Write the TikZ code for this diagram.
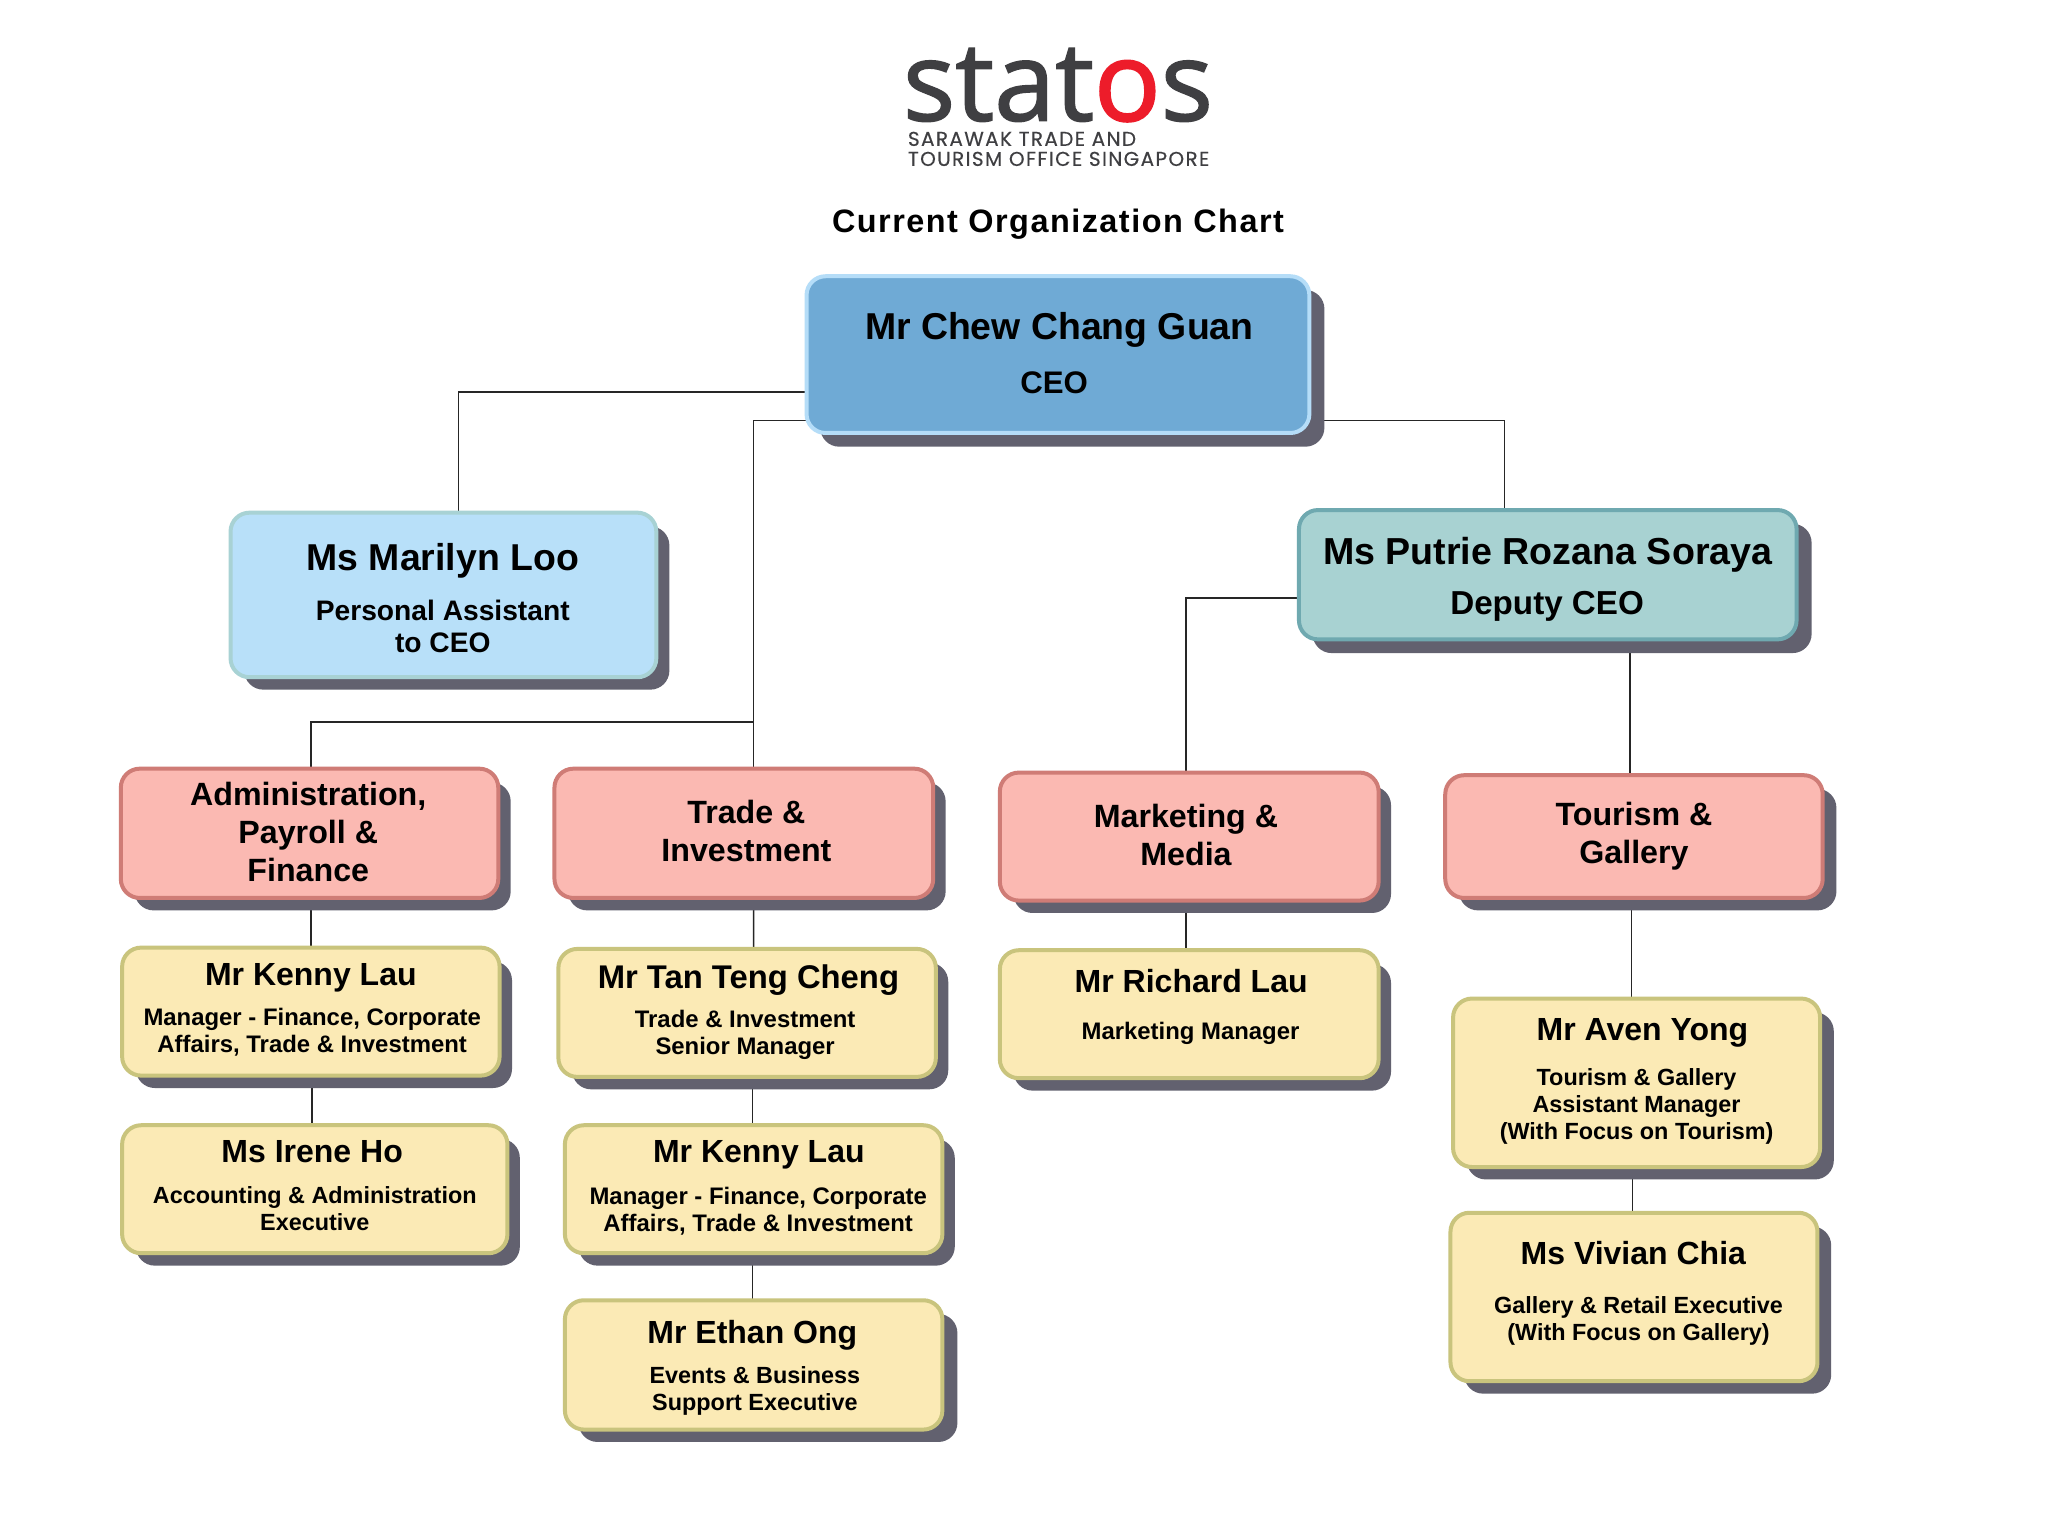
\documentclass[tikz,border=0pt]{standalone}
\usepackage{fontspec}
\setmainfont{Liberation Sans}
\newfontfamily\logofont[FakeBold=1.4]{Open Sans}
\newfontfamily\logoring[FakeBold=2]{Open Sans}
\newfontfamily\logosub[LetterSpace=6.8,FakeBold=0.4]{Poppins}
\newfontfamily\headfont[LetterSpace=4.6,BoldFont={Liberation Sans Bold}]{Liberation Sans}
\usetikzlibrary{calc,backgrounds}
\def\U{0.65306pt}
\definecolor{shadowc}{HTML}{62616F}
\definecolor{ceoF}{HTML}{6FAAD5}\definecolor{ceoB}{HTML}{B5DDF8}
\definecolor{paF}{HTML}{B8E0F9}\definecolor{paB}{HTML}{A8D2D4}
\definecolor{depF}{HTML}{A8D2D2}\definecolor{depB}{HTML}{6FA9B0}
\definecolor{pinkF}{HTML}{FBB9B2}\definecolor{pinkB}{HTML}{CF7C76}
\definecolor{yelF}{HTML}{FBEAB5}\definecolor{yelB}{HTML}{C9C47D}
\definecolor{logoG}{HTML}{3F3F42}\definecolor{logoR}{HTML}{ED1C2A}
\tikzset{
  orgbox/.style={rectangle,rounded corners=9.5pt,line width=2pt,outer sep=0pt,inner sep=0pt},
  ceobox/.style={orgbox,draw=ceoB,fill=ceoF},
  pabox/.style={orgbox,draw=paB,fill=paF},
  depbox/.style={orgbox,draw=depB,fill=depF},
  pinkbox/.style={orgbox,draw=pinkB,fill=pinkF},
  yelbox/.style={orgbox,draw=yelB,fill=yelF},
  dropfill/.style={fill=shadowc,rounded corners=9.5pt},
  link/.style={draw=black!85,line width=0.8pt},
  lab/.style={align=center,inner sep=0pt,text=black},
  topname/.style={lab,font=\bfseries\fontsize{18.7}{20}\selectfont},
  bigname/.style={lab,font=\bfseries\fontsize{18.8}{20}\selectfont},
  subrole/.style={lab,font=\bfseries\fontsize{15.6}{19}\selectfont},
  deputy/.style={lab,font=\bfseries\fontsize{16.6}{19}\selectfont},
  parole/.style={lab,font=\bfseries\fontsize{14.1}{16.3}\selectfont},
  dept/.style={lab,font=\bfseries\fontsize{16.1}{19}\selectfont},
  namelab/.style={lab,font=\bfseries\fontsize{16}{18}\selectfont},
  namewide/.style={lab,font=\bfseries\fontsize{16.4}{18}\selectfont},
  rolelab/.style={lab,font=\bfseries\fontsize{11.95}{13.5}\selectfont},
  rolesm/.style={lab,font=\bfseries\fontsize{11.7}{13.5}\selectfont},
}
% #1 name, #2-#5 left top right bottom, #6 style, #7 #8 drop offset
\newcommand\orgnode[8]{%
  \path[dropfill] (#2+11,#3+11) rectangle (#4+#7,#5+#8);
  \node[#6,minimum width={(#4-#2-1)*\U},minimum height={(#5-#3-1)*\U}] (#1) at ({(#2+#4)/2},{(#3+#5)/2}) {};
}
\begin{document}
\begin{tikzpicture}[x=\U,y=-\U]
\useasboundingbox (0,0) rectangle (1568,1176);
\begin{pgfonlayer}{background}
\fill[white] (0,0) rectangle (1568,1176);
\end{pgfonlayer}

% logo and heading
\node[inner sep=0pt,text=logoG,font=\logofont\fontsize{55}{55}\selectfont] (logo) at (810,65) {stat{\logoring\color{logoR}o}s};
\node[inner sep=0pt,align=left,text=logoG,font=\logosub\fontsize{10}{10}\selectfont] (logosubt) at (810.5,114) {SARAWAK TRADE AND\\TOURISM OFFICE SINGAPORE};
\node[lab,font=\headfont\bfseries\fontsize{16.2}{18}\selectfont] (heading) at (810,172) {Current Organization Chart};

% boxes
\orgnode{ceo}{617}{211}{1003}{332}{ceobox}{11}{10}
\orgnode{marilyn}{176}{392}{503}{519}{pabox}{9.5}{9}
\orgnode{putrie}{994}{390}{1376}{490}{depbox}{11}{10}
\orgnode{admin}{92}{588}{382}{688}{pinkbox}{9}{9}
\orgnode{trade}{424}{588}{715}{688}{pinkbox}{9}{9}
\orgnode{marketing}{765}{591}{1056}{690}{pinkbox}{9}{9}
\orgnode{tourism}{1106}{593}{1396}{688}{pinkbox}{10}{9}
\orgnode{kenny}{93}{725}{383}{824}{yelbox}{9}{9}
\orgnode{irene}{93}{861}{389}{960}{yelbox}{9}{9}
\orgnode{tan}{427}{726}{717}{825}{yelbox}{9}{9}
\orgnode{kennyb}{432}{861}{722}{960}{yelbox}{9}{9}
\orgnode{ethan}{432}{995}{722}{1095}{yelbox}{11}{9}
\orgnode{richard}{765}{727}{1056}{826}{yelbox}{9}{9}
\orgnode{aven}{1112}{764}{1394}{894}{yelbox}{10}{9}
\orgnode{vivian}{1110}{928}{1392}{1058}{yelbox}{10}{9}

% connectors
\coordinate (branch) at (577,553);
\begin{pgfonlayer}{background}
\draw[link] ($(ceo.west)+(0,28.5)$) -| ($(marilyn.north)+(11.5,0)$);
\draw[link] ($(ceo.west)+(0,50.5)$) -| ($(trade.north)+(7.5,0)$);
\draw[link] (branch) -| ($(admin.north)+(1,0)$);
\draw[link] ($(ceo.east)+(0,50.5)$) -| ($(putrie.north)+(-33,0)$);
\draw[link] ($(putrie.west)+(0,18)$) -| ($(marketing.north)+(-2.5,0)$);
\draw[link] ($(putrie.south)+(63,0)$) -- ($(tourism.north)+(-3,0)$);
\draw[link] ($(admin.south)+(1,0)$) -- (kenny.north);
\draw[link] ($(kenny.south)+(1,0)$) -- ($(irene.north)+(-2,0)$);
\draw[link] ($(trade.south)+(7.5,0)$) -- ($(tan.north)+(5,0)$);
\draw[link] ($(tan.south)+(4,0)$) -- ($(kennyb.north)+(-1,0)$);
\draw[link] ($(kennyb.south)+(-1,0)$) -- ($(ethan.north)+(-1,0)$);
\draw[link] ($(marketing.south)+(-2.5,0)$) -- ($(richard.north)+(-2.5,0)$);
\draw[link] ($(tourism.south)+(-2,0)$) -- ($(aven.north)+(-4,0)$);
\draw[link] ($(aven.south)+(-3,0)$) -- ($(vivian.north)+(-1,0)$);
\end{pgfonlayer}

% labels
\node[topname] (ceoN) at (811,252.5) {Mr Chew Chang Guan};
\node[subrole] (ceoR) at (807,293) {CEO};
\node[topname] (marilynN) at (339,429.5) {Ms Marilyn Loo};
\node[parole] (marilynR) at (339,479.5) {Personal Assistant\\to CEO};
\node[bigname] (putrieN) at (1185,424.5) {Ms Putrie Rozana Soraya};
\node[deputy] (putrieR) at (1184.5,464) {Deputy CEO};
\node[dept] (adminL) at (236,637) {Administration,\\Payroll \&\\Finance};
\node[dept] (tradeL) at (571.5,636) {Trade \&\\Investment};
\node[dept] (marketingL) at (908,639) {Marketing \&\\Media};
\node[dept] (tourismL) at (1251,640) {Tourism \&\\Gallery};
\node[namelab] (kennyN) at (238,749) {Mr Kenny Lau};
\node[rolelab] (kennyR) at (239,790) {Manager - Finance, Corporate\\Affairs, Trade \& Investment};
\node[namelab] (ireneN) at (239,882) {Ms Irene Ho};
\node[rolesm] (ireneR) at (241,925) {Accounting \& Administration\\Executive};
\node[namewide] (tanN) at (573,750) {Mr Tan Teng Cheng};
\node[rolelab] (tanR) at (570.5,792) {Trade \& Investment\\Senior Manager};
\node[namelab] (kennybN) at (581,884) {Mr Kenny Lau};
\node[rolelab] (kennybR) at (580.5,927) {Manager - Finance, Corporate\\Affairs, Trade \& Investment};
\node[namelab] (ethanN) at (576,1022) {Mr Ethan Ong};
\node[rolesm] (ethanR) at (578,1065) {Events \& Business\\Support Executive};
\node[namelab] (richardN) at (912,751) {Mr Richard Lau};
\node[rolelab] (richardR) at (911.5,791) {Marketing Manager};
\node[namelab] (avenN) at (1257.5,791) {Mr Aven Yong};
\node[rolesm] (avenR) at (1253,847) {Tourism \& Gallery\\Assistant Manager\\(With Focus on Tourism)};
\node[namelab] (vivianN) at (1250.5,959) {Ms Vivian Chia};
\node[rolesm] (vivianR) at (1254.5,1011) {Gallery \& Retail Executive\\(With Focus on Gallery)};
\end{tikzpicture}
\end{document}
